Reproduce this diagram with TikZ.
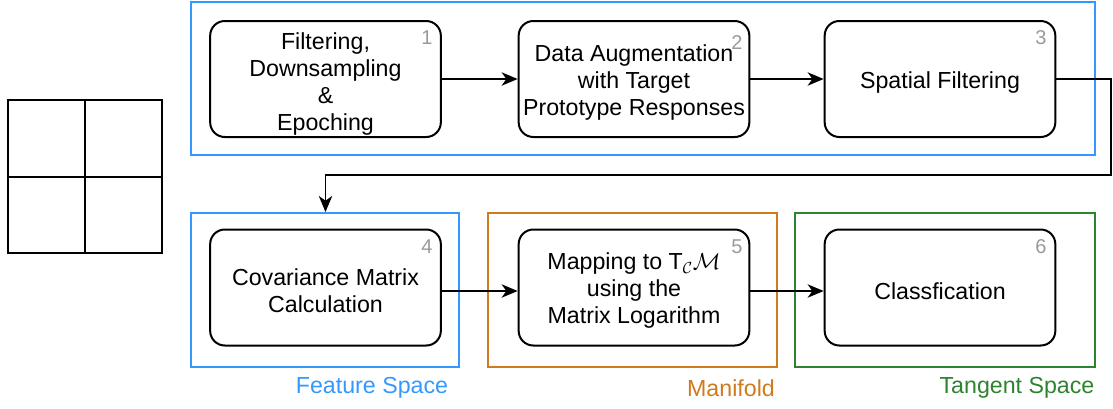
\documentclass[tikz,border=0pt]{standalone}
\usepackage{fontspec}
\setmainfont{Liberation Sans}
\usetikzlibrary{arrows.meta}
\definecolor{fblue}{HTML}{3399FF}
\definecolor{forange}{HTML}{D07A1E}
\definecolor{fgreen}{HTML}{2E842E}
\definecolor{numgray}{HTML}{9A9A9A}
\tikzset{
  stepbox/.style={draw=black, line width=1.5pt, rounded corners=11pt,
    minimum width=173pt, minimum height=87pt, inner sep=0pt},
  steptext/.style={align=center, inner sep=0pt,
    font=\fontsize{17.4}{20.25}\selectfont},
  framebox/.style={draw=#1, line width=1.5pt, inner sep=0pt},
  arr/.style={draw=black, line width=1.3pt, -{Stealth[length=12pt,width=10pt,inset=3.5pt]}},
  numlbl/.style={text=numgray, font=\fontsize{15}{15}\selectfont, inner sep=0pt},
  spacelbl/.style={font=\fontsize{17.4}{20}\selectfont, inner sep=0pt}
}
\begin{document}
\begin{tikzpicture}[x=0.75pt,y=-0.75pt]
\useasboundingbox (0,0) rectangle (1113,408);
% grid
\draw[line width=1.5pt] (8,100) rectangle (162,253);
\draw[line width=1.5pt] (85,100) -- (85,253);
\draw[line width=1.5pt] (8,177) -- (162,177);
% frames
\node[framebox=fblue, minimum width=678pt, minimum height=114.75pt] (top) at (643,78.5) {};
\node[framebox=fblue, minimum width=201pt, minimum height=115.5pt] (feat) at (325,290) {};
\node[framebox=forange, minimum width=216.75pt, minimum height=115.5pt] (mani) at (632.5,290) {};
\node[framebox=fgreen, minimum width=225pt, minimum height=115.5pt] (tang) at (945,290) {};
% boxes
\node[stepbox] (b1) at (325.5,79) {};
\node[stepbox] (b2) at (634,79) {};
\node[stepbox] (b3) at (940,79) {};
\node[stepbox] (b4) at (325.5,287.5) {};
\node[stepbox] (b5) at (634,287.5) {};
\node[stepbox] (b6) at (940,287.5) {};
% box texts
\node[steptext] (t1) at ([yshift=-3.5pt]b1.center) {Filtering,\\Downsampling\\\&\\Epoching};
\node[steptext] (t2) at ([yshift=-2.5pt]b2.center) {Data Augmentation\\with Target\\Prototype Responses};
\node[steptext] (t3) at ([yshift=-2.5pt]b3.center) {Spatial Filtering};
\node[steptext] (t4) at ([yshift=-2.5pt]b4.center) {Covariance Matrix\\Calculation};
\node[steptext] (t5) at ([yshift=-2.5pt]b5.center) {Mapping to T$_{\mathcal{C}}\mathcal{M}$\\using the\\Matrix Logarithm};
\node[steptext] (t6) at ([yshift=-2.5pt]b6.center) {Classfication};
% numbers
\node[numlbl] (n1) at (427,38) {1};
\node[numlbl] (n2) at (737,43) {2};
\node[numlbl] (n3) at (1041,38) {3};
\node[numlbl] (n4) at (427,247) {4};
\node[numlbl] (n5) at (737,247) {5};
\node[numlbl] (n6) at (1041,247) {6};
% space labels
\node[spacelbl, text=fblue] (l1) at (372,388) {Feature Space};
\node[spacelbl, text=forange] (l2) at (731,388) {Manifold};
\node[spacelbl, text=fgreen] (l3) at (1017,388) {Tangent Space};
% connectors
\draw[arr] (b1.east) -- (b2.west);
\draw[arr] (b2.east) -- (b3.west);
\coordinate (c1) at (1111,175);
\draw[arr] (b3.east) -| (c1) -| (b4.north |- feat.north);
\draw[arr] (b4.east |- 0,291) -- (b5.west |- 0,291);
\draw[arr] (b5.east |- 0,291) -- (b6.west |- 0,291);
\end{tikzpicture}
\end{document}
